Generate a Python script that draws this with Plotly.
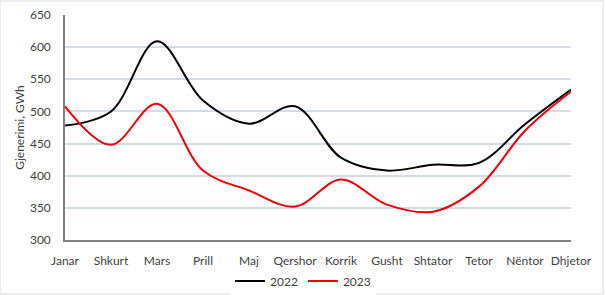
import plotly.graph_objects as go

months = ["Janar", "Shkurt", "Mars", "Prill", "Maj", "Qershor", "Korrik",
          "Gusht", "Shtator", "Tetor", "Nëntor", "Dhjetor"]
y2022 = [478, 500, 609, 517, 481, 508, 428, 408, 417, 420, 480, 534]
y2023 = [508, 448, 512, 408, 377, 352, 394, 355, 344, 383, 470, 531]
yticks = [300, 350, 400, 450, 500, 550, 600, 650]

FONT = "Lato"
TXT = "#404040"

fig = go.Figure()
fig.add_trace(go.Scatter(x=months, y=y2022, name="2022", mode="lines",
                         line=dict(color="black", width=2, shape="spline", smoothing=1.0)))
fig.add_trace(go.Scatter(x=months, y=y2023, name="2023", mode="lines",
                         line=dict(color="#e8000b", width=2, shape="spline", smoothing=1.0)))

fig.update_layout(
    width=606, height=295,
    margin=dict(l=65, r=35, t=15, b=55, autoexpand=False),
    paper_bgcolor="white", plot_bgcolor="white",
    font=dict(family=FONT, size=12, color=TXT),
    showlegend=True,
    legend=dict(orientation="h", x=0.5, xanchor="center", xref="container",
                y=1 - 281/295, yanchor="middle", yref="container",
                font=dict(family=FONT, size=12, color=TXT), itemwidth=30,
                tracegroupgap=0),
    xaxis=dict(type="category", range=[0, 11], showgrid=False,
               showline=True, linecolor="#808080", linewidth=1.5,
               ticks="", ticklabelstandoff=9, tickfont=dict(size=12, color=TXT)),
    yaxis=dict(range=[300, 650], tickvals=yticks, showgrid=True,
               gridcolor="#d5dbe6", gridwidth=1.5,
               showline=True, linecolor="#808080", linewidth=1.5,
               ticks="", ticklabelstandoff=10, tickfont=dict(size=12, color=TXT),
               title=dict(text="Gjenerimi, GWh", font=dict(size=12, color=TXT), standoff=3),
               zeroline=False),
    shapes=[dict(type="rect", xref="paper", yref="paper",
                 x0=-65/506, x1=(603-65)/506, y0=-(294-240)/225, y1=(240-1)/225,
                 line=dict(color="#d9d9d9", width=1), fillcolor="rgba(0,0,0,0)",
                 layer="below")],
)

fig.write_html("out.html")
